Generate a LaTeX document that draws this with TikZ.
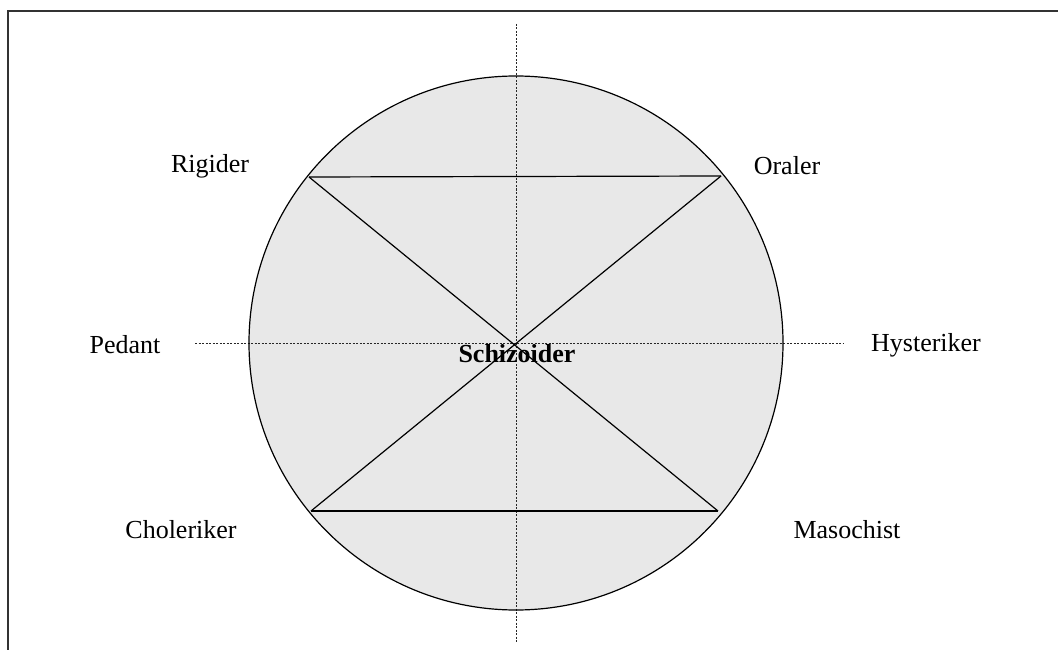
\documentclass[tikz,border=0pt]{standalone}
\usepackage{fontspec}
\setmainfont{Liberation Serif}
\begin{document}
\begin{tikzpicture}[x=1pt,y=-1pt,
  lbl/.style={font=\fontsize{26}{31}\selectfont, inner sep=0pt},
  axis/.style={line width=1pt, dash pattern=on 2pt off 1.5pt, black!85},
  edge/.style={line width=1.2pt, black}]
\useasboundingbox (0,0) rectangle (1058,650);
\draw[line width=1.6pt, black!80] (8,650) -- (8,11) -- (1058,11);
\coordinate (c) at (516,343);
\fill[black!9] (c) circle (267);
\coordinate (vt) at (516,24);
\coordinate (vb) at (516,643);
\coordinate (hl) at (195,343);
\coordinate (hr) at (843,343);
\draw[axis] (vt) -- (vb);
\draw[axis] (hl) -- (hr);
\draw[line width=1.2pt] (c) circle (267);
\coordinate (r) at (309,177);
\coordinate (o) at (721,176);
\coordinate (m) at (718,511);
\coordinate (ch) at (311,511);
\draw[edge] (r) -- (o);
\draw[edge] (ch) -- (m);
\draw[edge] (r) -- (m);
\draw[edge] (o) -- (ch);
\node[lbl] (rig) at (210,166) {Rigider};
\node[lbl] (ora) at (787,166) {Oraler};
\node[lbl] (ped) at (125,345) {Pedant};
\node[lbl] (hys) at (926,345) {Hysteriker};
\node[lbl] (cho) at (181,530) {Choleriker};
\node[lbl] (mas) at (847,530) {Masochist};
\node[lbl, font=\fontsize{26}{31}\selectfont\bfseries] (sch) at (517,354) {Schizoider};
\end{tikzpicture}
\end{document}
